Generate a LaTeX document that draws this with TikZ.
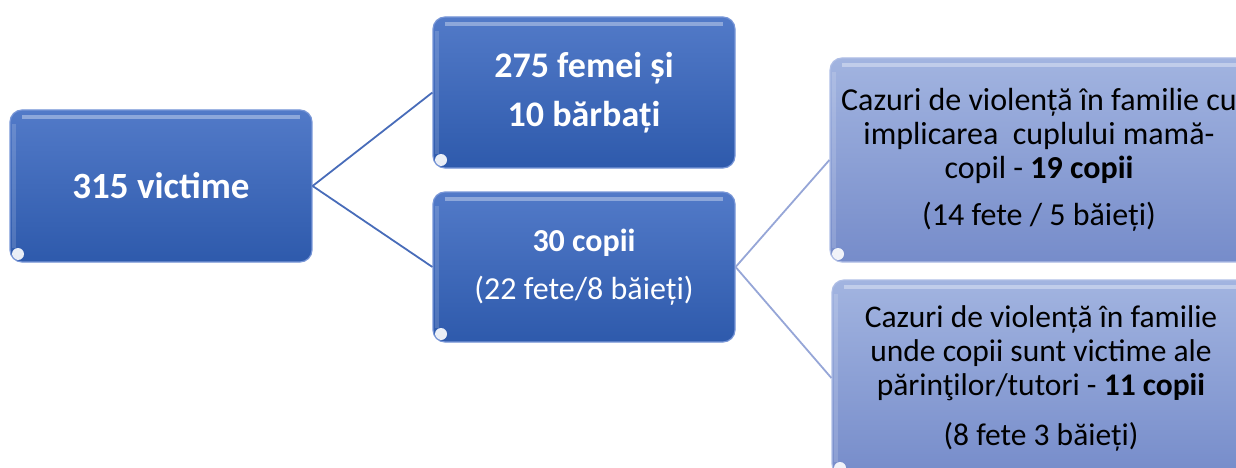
\documentclass[tikz,border=0pt]{standalone}
\usepackage{fontspec}
\setmainfont{Carlito}
\definecolor{dkA}{RGB}{82,122,200}
\definecolor{dkB}{RGB}{46,90,172}
\definecolor{dkEdge}{RGB}{120,150,215}
\definecolor{ltA}{RGB}{162,180,224}
\definecolor{ltB}{RGB}{118,140,202}
\definecolor{ltEdge}{RGB}{175,190,230}
\definecolor{lineA}{RGB}{72,108,185}
\definecolor{lineB}{RGB}{150,166,215}
\begin{document}
\begin{tikzpicture}[x=1pt,y=-1pt,
  bevel/.style={path picture={
    \draw[white, opacity=0.35, line width=4pt]
      ([xshift=12pt,yshift=-7pt]path picture bounding box.north west) --
      ([xshift=-12pt,yshift=-7pt]path picture bounding box.north east);
    \draw[white, opacity=0.15, line width=4pt]
      ([xshift=4pt,yshift=-14pt]path picture bounding box.north west) --
      ([xshift=4pt,yshift=14pt]path picture bounding box.south west);
    \fill[white, opacity=0.9]
      ([xshift=8pt,yshift=8pt]path picture bounding box.south west) circle (6pt);
  }},
  box/.style={rectangle, rounded corners=12pt, line width=1.2pt, align=center, inner sep=0pt, bevel},
  darkbox/.style={box, top color=dkA, bottom color=dkB, draw=dkEdge, text=white},
  lightbox/.style={box, top color=ltA, bottom color=ltB, draw=ltEdge, text=black},
  linkA/.style={draw=lineA, line width=1.8pt},
  linkB/.style={draw=lineB, line width=1.8pt}]
\useasboundingbox (0,0) rectangle (1236,468);
\clip (0,0) rectangle (1236,468);

\node[darkbox, minimum width=302pt, minimum height=152pt,
  font=\fontsize{37}{44}\selectfont\bfseries] (root) at (161,186) {315 victime};
\node[darkbox, minimum width=302pt, minimum height=151pt,
  font=\fontsize{36}{49}\selectfont\bfseries] (adult) at (584,92.5) {275 femei și\\10 bărbați};
\node[darkbox, minimum width=302pt, minimum height=150pt,
  font=\fontsize{32}{48}\selectfont] (kids) at (584,267) {\textbf{30 copii}\\(22 fete/8 băieți)};
\node[lightbox, minimum width=418pt, minimum height=204pt,
  font=\fontsize{32}{34}\selectfont] (case1) at (1039,160)
  {Cazuri de violență în familie cu\\implicarea\ \ cuplului mamă-\\copil - \textbf{19 copii}\\[13pt](14 fete / 5 băieți)};
\node[lightbox, minimum width=418pt, minimum height=196pt,
  font=\fontsize{31.5}{34}\selectfont] (case2) at (1041,378)
  {Cazuri de violență în familie\\unde copii sunt victime ale\\părinţilor/tutori - \textbf{11 copii}\\[16pt](8 fete 3 băieți)};

\draw[linkA] (root.east) -- (adult.west);
\draw[linkA] (root.east) -- (kids.west);
\draw[linkB] (kids.east) -- (case1.west);
\draw[linkB] (kids.east) -- (case2.west);
\end{tikzpicture}
\end{document}
